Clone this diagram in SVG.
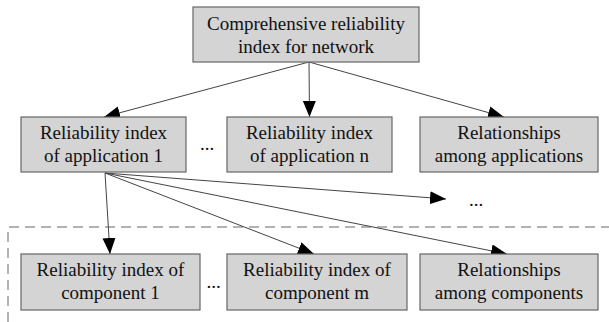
<svg xmlns="http://www.w3.org/2000/svg" width="609" height="322" viewBox="0 0 609 322" font-family="Liberation Serif, serif">
  <style>
    .box { fill: #d4d4d4; stroke: #666; stroke-width: 1.2; }
    .lbl { font-size: 19px; fill: #111; text-anchor: middle; }
    .edge { stroke: #444; stroke-width: 1; fill: none; marker-end: url(#head); }
    .dash { stroke: #666; stroke-width: 1; fill: none; stroke-dasharray: 10 6; }
  </style>
  <defs>
    <marker id="head" markerUnits="userSpaceOnUse" markerWidth="17" markerHeight="14" refX="16" refY="6.5" orient="auto">
      <path d="M0,0 L16,6.5 L0,13 Z" fill="#000"/>
    </marker>
  </defs>

  <rect width="609" height="322" fill="#fff"/>

  <!-- component-level boundary -->
  <path class="dash" d="M8,322 L8,227 L609,227"/>

  <g id="connectors">
    <line class="edge" x1="309" y1="62" x2="104" y2="117"/>
    <line class="edge" x1="309" y1="62" x2="309.5" y2="117"/>
    <line class="edge" x1="309" y1="62" x2="504" y2="117"/>
    <line class="edge" x1="105" y1="173" x2="110" y2="254"/>
    <line class="edge" x1="105" y1="173" x2="314" y2="254"/>
    <line class="edge" x1="105" y1="173" x2="507" y2="254"/>
    <line class="edge" x1="105" y1="173" x2="446" y2="199"/>
  </g>

  <g id="network">
    <rect class="box" x="193" y="7" width="226" height="55"/>
    <text class="lbl" x="306" y="30">Comprehensive reliability</text>
    <text class="lbl" x="306" y="53">index for network</text>
  </g>

  <g id="app1">
    <rect class="box" x="21" y="117" width="165" height="55"/>
    <text class="lbl" x="103.5" y="139">Reliability index</text>
    <text class="lbl" x="103.5" y="162">of application 1</text>
  </g>

  <g id="appN">
    <rect class="box" x="227" y="117" width="165" height="55"/>
    <text class="lbl" x="309.5" y="139">Reliability index</text>
    <text class="lbl" x="309.5" y="162">of application n</text>
  </g>

  <g id="appRel">
    <rect class="box" x="420" y="117" width="178" height="55"/>
    <text class="lbl" x="509" y="139">Relationships</text>
    <text class="lbl" x="509" y="162">among applications</text>
  </g>

  <g id="comp1">
    <rect class="box" x="21" y="254" width="179" height="56"/>
    <text class="lbl" x="110.5" y="276">Reliability index of</text>
    <text class="lbl" x="110.5" y="299">component 1</text>
  </g>

  <g id="compM">
    <rect class="box" x="227" y="254" width="180" height="56"/>
    <text class="lbl" x="317" y="276">Reliability index of</text>
    <text class="lbl" x="317" y="299">component m</text>
  </g>

  <g id="compRel">
    <rect class="box" x="420" y="254" width="178" height="56"/>
    <text class="lbl" x="509" y="276">Relationships</text>
    <text class="lbl" x="509" y="299">among components</text>
  </g>

  <!-- ellipses -->
  <text class="lbl" x="207" y="150">...</text>
  <text class="lbl" x="476" y="206">...</text>
  <text class="lbl" x="213.5" y="288">...</text>
</svg>
